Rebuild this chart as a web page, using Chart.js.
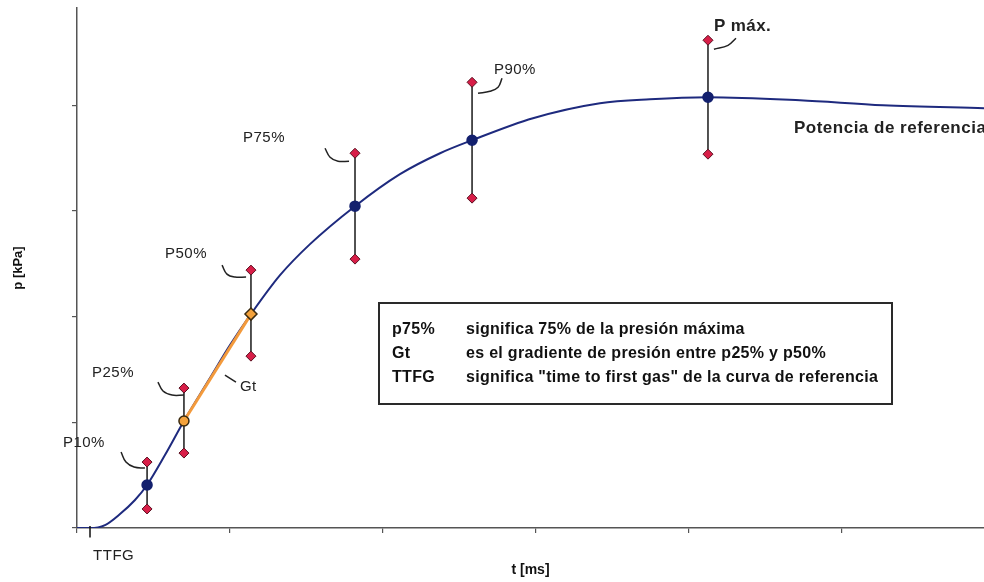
<!DOCTYPE html>
<html>
<head>
<meta charset="utf-8">
<script src="https://cdn.jsdelivr.net/npm/chart.js@4.4.0/dist/chart.umd.min.js"></script>
<style>
  html, body { margin: 0; padding: 0; background: #fff; }
  #grafico { display: block; }
</style>
</head>
<body>
<canvas id="grafico" width="984" height="582"></canvas>
<script>
// Curva de referencia p(t) (unidades = una división de eje)
const tiempos = [0, 0.085, 0.183, 0.281, 0.379, 0.458, 0.575, 0.699, 0.869, 1.0, 1.137, 1.327, 1.523, 1.817, 2.111, 2.373, 2.582, 2.980, 3.418, 3.745, 4.124, 4.725, 5.268, 5.928];
const presiones = [0, 0, 0.028, 0.132, 0.265, 0.407, 0.690, 1.012, 1.418, 1.730, 2.024, 2.392, 2.686, 3.045, 3.348, 3.546, 3.669, 3.877, 4.019, 4.057, 4.076, 4.047, 4.000, 3.972];

// Puntos característicos y sus tolerancias
const nombresPuntos = ['P10%', 'P25%', 'P50%', 'P75%', 'P90%', 'P máx.'];
const tPuntos = [0.458, 0.699, 1.137, 1.817, 2.582, 4.124];
const pPuntos = [0.407, 1.012, 2.024, 3.045, 3.669, 4.076];
const pInferior = [0.180, 0.709, 1.626, 2.544, 3.121, 3.537];
const pSuperior = [0.624, 1.324, 2.440, 3.546, 4.217, 4.615];

const tTTFG = 0.085;

// Gradiente Gt entre p25% y p50%
const tramoGt = [1, 2];

// Líneas guía de las etiquetas
const guias = [
  [[0.288, 0.719], [0.320, 0.624], [0.373, 0.577], [0.444, 0.567]],
  [[0.529, 1.381], [0.562, 1.296], [0.621, 1.258], [0.699, 1.258]],
  [[0.948, 2.487], [0.980, 2.402], [1.033, 2.374], [1.105, 2.374]],
  [[1.621, 3.593], [1.654, 3.508], [1.706, 3.470], [1.778, 3.470]],
  [[2.621, 4.113], [2.699, 4.132], [2.752, 4.170], [2.778, 4.255]],
  [[4.163, 4.530], [4.255, 4.567], [4.307, 4.634]],
  [[0.967, 1.447], [1.039, 1.381]]
];

const fuente = '"Liberation Sans", Arial, sans-serif';

const etiquetas = [
  { texto: 'P10%', t: -0.092, p: 0.804, font: '15px ' + fuente, esp: '0.5px' },
  { texto: 'P25%', t: 0.098, p: 1.466, font: '15px ' + fuente, esp: '0.5px' },
  { texto: 'P50%', t: 0.575, p: 2.591, font: '15px ' + fuente, esp: '0.5px' },
  { texto: 'P75%', t: 1.085, p: 3.688, font: '15px ' + fuente, esp: '0.5px' },
  { texto: 'P90%', t: 2.725, p: 4.331, font: '15px ' + fuente, esp: '0.5px' },
  { texto: 'P máx.', t: 4.163, p: 4.747, font: 'bold 17px ' + fuente, esp: '0.4px' },
  { texto: 'Gt', t: 1.065, p: 1.333, font: '15px ' + fuente, esp: '0.5px' },
  { texto: 'Potencia de referencia', t: 4.686, p: 3.783, font: 'bold 17px ' + fuente, esp: '0.5px' },
  { texto: 'TTFG', t: 0.105, p: -0.265, font: '15px ' + fuente, esp: '0.5px' }
];

const leyendaClaves = ['p75%', 'Gt', 'TTFG'];
const leyendaTextos = [
  'significa 75% de la presión máxima',
  'es el gradiente de presión entre p25% y p50%',
  'significa "time to first gas" de la curva de referencia'
];

const curva = tiempos.map((t, i) => ({ x: t, y: presiones[i] }));

const bigotes = [];
tPuntos.forEach((t, i) => {
  bigotes.push({ x: t, y: pInferior[i] }, { x: t, y: pSuperior[i] }, { x: t, y: null });
});

const extremos = [];
tPuntos.forEach((t, i) => {
  extremos.push({ x: t, y: pInferior[i] }, { x: t, y: pSuperior[i] });
});

const centros = tPuntos.map((t, i) => ({ x: t, y: pPuntos[i] }));
const coloresCentro = nombresPuntos.map((n, i) => (i === 1 || i === 2) ? '#f4a23c' : '#13206e');
const bordesCentro = nombresPuntos.map((n, i) => (i === 1 || i === 2) ? '#3a2a10' : '#13206e');
const estilosCentro = nombresPuntos.map((n, i) => i === 2 ? 'rectRot' : 'circle');
const radiosCentro = nombresPuntos.map((n, i) => i === 2 ? 6 : 5);

const gt = tramoGt.map(i => ({ x: tPuntos[i], y: pPuntos[i] }));

const datasets = [
  {
    data: curva, borderColor: '#1e2a7e', borderWidth: 2,
    pointRadius: 0, cubicInterpolationMode: 'monotone', order: 9
  },
  {
    data: gt, borderColor: '#f39a3c', borderWidth: 3,
    pointRadius: 0, order: 8
  },
  {
    data: bigotes, borderColor: '#1a1a1a', borderWidth: 1.5,
    pointRadius: 0, spanGaps: false, order: 7
  }
];

guias.forEach(g => {
  datasets.push({
    data: g.map(p => ({ x: p[0], y: p[1] })), borderColor: '#222', borderWidth: 1.5,
    pointRadius: 0, tension: 0.4, order: 6, clip: false
  });
});

datasets.push({
  data: [{ x: tTTFG, y: 0.02 }, { x: tTTFG, y: -0.09 }],
  borderColor: '#111', borderWidth: 1.5, pointRadius: 0, clip: false, order: 6
});

datasets.push({
  data: extremos, showLine: false, pointStyle: 'rectRot', pointRadius: 5,
  backgroundColor: '#d81e48', borderColor: '#5a1020', borderWidth: 1, order: 5
});

datasets.push({
  data: centros, showLine: false, pointStyle: estilosCentro, pointRadius: radiosCentro,
  backgroundColor: coloresCentro, borderColor: bordesCentro, borderWidth: 1.5, order: 4
});

const anotaciones = {
  id: 'anotaciones',
  afterDatasetsDraw(chart) {
    const { ctx } = chart;
    const x = chart.scales.x, y = chart.scales.y;
    ctx.save();
    ctx.textBaseline = 'middle';
    ctx.fillStyle = '#222';
    etiquetas.forEach(e => {
      ctx.font = e.font;
      ctx.letterSpacing = e.esp;
      ctx.fillText(e.texto, x.getPixelForValue(e.t), y.getPixelForValue(e.p));
    });

    // cuadro de leyenda
    const bx = 379, by = 303, bw = 513, bh = 101;
    ctx.fillStyle = '#fff';
    ctx.fillRect(bx, by, bw, bh);
    ctx.strokeStyle = '#2a2a2a';
    ctx.lineWidth = 2;
    ctx.strokeRect(bx, by, bw, bh);
    ctx.font = 'bold 16px ' + fuente;
    ctx.letterSpacing = '0.3px';
    ctx.fillStyle = '#111';
    leyendaClaves.forEach((k, i) => {
      const ly = by + 27 + i * 24;
      ctx.fillText(k, bx + 13, ly);
      ctx.fillText(leyendaTextos[i], bx + 87, ly);
    });
    ctx.restore();
  }
};

const soloEnteros = s => { s.ticks = s.ticks.filter(t => Number.isInteger(t.value)); };

new Chart(document.getElementById('grafico'), {
  type: 'line',
  data: { datasets },
  options: {
    responsive: false,
    devicePixelRatio: 1,
    animation: false,
    layout: { autoPadding: false, padding: { top: 8, right: 0, left: 0, bottom: 0 } },
    plugins: { legend: { display: false }, tooltip: { enabled: false } },
    scales: {
      x: {
        type: 'linear', min: 0, max: 5.928,
        ticks: { display: false, stepSize: 1 },
        grid: { drawOnChartArea: false, drawTicks: true, tickLength: 5, color: '#555', lineWidth: 1.2 },
        border: { display: true, color: '#555', width: 1.5 },
        title: { display: true, text: 't [ms]', font: { family: fuente, size: 14, weight: 'bold' }, color: '#111', padding: { top: 0, bottom: 3 } },
        afterBuildTicks: soloEnteros,
        afterFit: s => { s.height = 54; }
      },
      y: {
        type: 'linear', min: 0, max: 4.92,
        ticks: { display: false, stepSize: 1 },
        grid: { drawOnChartArea: false, drawTicks: true, tickLength: 5, color: '#555', lineWidth: 1.2 },
        border: { display: true, color: '#555', width: 1.5 },
        title: { display: true, text: 'p [kPa]', font: { family: fuente, size: 13, weight: 'bold' }, color: '#111', padding: { top: 11, bottom: 0 } },
        afterBuildTicks: soloEnteros,
        afterFit: s => { s.width = 77; }
      }
    }
  },
  plugins: [anotaciones]
});
</script>
</body>
</html>
